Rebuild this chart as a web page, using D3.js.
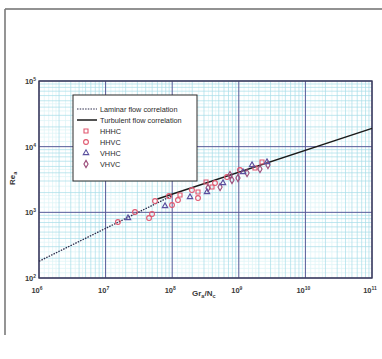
<!DOCTYPE html>
<html><head><meta charset="utf-8">
<script src="https://cdn.jsdelivr.net/npm/d3@7"></script>
<style>body{margin:0;background:#fff}svg{display:block}</style>
</head><body>
<svg id="c" width="382" height="359"></svg>
<script>
const xTicks = [1e6, 1e7, 1e8, 1e9, 1e10, 1e11];
const xTickExp = ["6", "7", "8", "9", "10", "11"];
const yTicks = [1e2, 1e3, 1e4, 1e5];
const yTickExp = ["2", "3", "4", "5"];

const laminarX = [1e6, 1e8];
const laminarY = [180, 1800];
const turbulentX = [6e7, 1e11];
const turbulentY = [1600, 19000];

const hhhcX = [1.31e8, 3.22e8, 2.44e8, 3.96e8, 1.75e9, 2.23e9];
const hhhcY = [1834, 2891, 2037, 2427, 4721, 5833];
const hhvcX = [1.53e7, 2.76e7, 4.49e7, 4.98e7, 5.52e7, 8.96e7, 9.93e7, 1.22e8, 1.98e8, 2.44e8, 4.39e8, 6.65e8, 1.04e9];
const hhvcY = [711, 1010, 818, 942, 1486, 1770, 1291, 1538, 2183, 1651, 2793, 3444, 4405];
const vhhcX = [2.17e7, 7.8e7, 1.85e8, 3.33e8, 5.79e8, 1.16e9, 1.58e9, 2.65e9];
const vhhcY = [818, 1247, 1710, 2037, 2793, 4102, 5248, 5833];
const vhvcX = [3.45e8, 5.23e8, 7.38e8, 9.72e8, 1.33e9, 2.08e9, 2.74e9, 7.9e8];
const vhvcY = [2344, 2427, 3698, 3327, 3963, 4561, 5248, 3105];

const legendLabels = ["Laminar flow correlation", "Turbulent flow correlation", "HHHC", "HHVC", "VHHC", "VHVC"];

const svg = d3.select("#c");
const L = 39, R = 372, T = 81, B = 278;
const x = d3.scaleLog().domain([1e6, 1e11]).range([L, R]);
const y = d3.scaleLog().domain([1e2, 1e5]).range([B, T]);

// outer frame of scan
svg.append("line").attr("x1", 5).attr("x2", 382).attr("y1", 9).attr("y2", 9).attr("stroke", "#6e6e6e").attr("stroke-width", 1.6);
svg.append("line").attr("x1", 5).attr("x2", 5).attr("y1", 9).attr("y2", 335).attr("stroke", "#7a7a7a").attr("stroke-width", 1.6);

const g = svg.append("g");
const fine = [1.2, 1.4, 1.6, 1.8, 2.5, 3.5, 4.5];
const mid = [2, 3, 4, 5, 6, 7, 8, 9];
function gridVals(dom, mults) {
  const out = [];
  for (let e = Math.log10(dom[0]); e < Math.log10(dom[1]); e++)
    mults.forEach(m => out.push(m * Math.pow(10, e)));
  return out;
}
const xd = x.domain(), yd = y.domain();
g.selectAll(".fx").data(gridVals(xd, fine)).join("line")
  .attr("x1", d => x(d)).attr("x2", d => x(d)).attr("y1", T).attr("y2", B)
  .attr("stroke", "#dcf3f7").attr("stroke-width", 0.7);
g.selectAll(".fy").data(gridVals(yd, fine)).join("line")
  .attr("y1", d => y(d)).attr("y2", d => y(d)).attr("x1", L).attr("x2", R)
  .attr("stroke", "#dcf3f7").attr("stroke-width", 0.7);
g.selectAll(".mx").data(gridVals(xd, mid)).join("line")
  .attr("x1", d => x(d)).attr("x2", d => x(d)).attr("y1", T).attr("y2", B)
  .attr("stroke", "#a6dce8").attr("stroke-width", 0.7);
g.selectAll(".my").data(gridVals(yd, mid)).join("line")
  .attr("y1", d => y(d)).attr("y2", d => y(d)).attr("x1", L).attr("x2", R)
  .attr("stroke", "#a6dce8").attr("stroke-width", 0.7);
g.selectAll(".Mx").data(xTicks).join("line")
  .attr("x1", d => x(d)).attr("x2", d => x(d)).attr("y1", T).attr("y2", B)
  .attr("stroke", "#555a98").attr("stroke-width", 1);
g.selectAll(".My").data(yTicks).join("line")
  .attr("y1", d => y(d)).attr("y2", d => y(d)).attr("x1", L).attr("x2", R)
  .attr("stroke", "#555a98").attr("stroke-width", 1);
g.append("rect").attr("x", L).attr("y", T).attr("width", R - L).attr("height", B - T)
  .attr("fill", "none").attr("stroke", "#3c3c5a").attr("stroke-width", 1.4);

const font = "Liberation Sans, Arial, sans-serif";
xTicks.forEach((v, i) => {
  const t = svg.append("text").attr("x", x(v) - 2).attr("y", 293).attr("text-anchor", "middle")
    .attr("font-family", font).attr("font-size", 7.5).attr("font-weight", "bold").attr("fill", "#3a3a3a");
  t.append("tspan").text("10");
  t.append("tspan").attr("dy", -3).attr("font-size", 5).text(xTickExp[i]);
});
yTicks.forEach((v, i) => {
  const t = svg.append("text").attr("x", L - 3).attr("y", y(v) + 3).attr("text-anchor", "end")
    .attr("font-family", font).attr("font-size", 7.5).attr("font-weight", "bold").attr("fill", "#3a3a3a");
  t.append("tspan").text("10");
  t.append("tspan").attr("dy", -3).attr("font-size", 5).text(yTickExp[i]);
});
const xt = svg.append("text").attr("x", 192).attr("y", 296).attr("font-family", font)
  .attr("font-size", 8).attr("font-weight", "bold").attr("fill", "#3a3a3a");
xt.append("tspan").text("Gr");
xt.append("tspan").attr("dy", 2).attr("font-size", 5.5).text("a");
xt.append("tspan").attr("dy", -2).text("/N");
xt.append("tspan").attr("dy", 2).attr("font-size", 5.5).text("c");
const yt = svg.append("text").attr("transform", "translate(15,185) rotate(-90)").attr("font-family", font)
  .attr("font-size", 8).attr("font-weight", "bold").attr("fill", "#3a3a3a");
yt.append("tspan").text("Re");
yt.append("tspan").attr("dy", 2).attr("font-size", 5.5).text("a");

const line = d3.line().x(d => x(d[0])).y(d => y(d[1]));
svg.append("path").attr("d", line(d3.zip(laminarX, laminarY)))
  .attr("fill", "none").attr("stroke", "#2a2a4a").attr("stroke-width", 1.3).attr("stroke-dasharray", "1.5,1.2");
svg.append("path").attr("d", line(d3.zip(turbulentX, turbulentY)))
  .attr("fill", "none").attr("stroke", "#1a1a1a").attr("stroke-width", 1.5);

const red = "#e0566e", blue = "#5a4f9e", plum = "#9a4a78";
const sym = {
  sq: d3.symbol().type(d3.symbolSquare).size(16),
  ci: d3.symbol().type(d3.symbolCircle).size(18),
  tr: d3.symbol().type(d3.symbolTriangle).size(13),
  di: d3.symbol().type(d3.symbolDiamond).size(15)
};
function pts(xs, ys, s, c) {
  svg.append("g").selectAll("path").data(d3.zip(xs, ys)).join("path")
    .attr("d", s).attr("transform", d => `translate(${x(d[0])},${y(d[1])})`)
    .attr("fill", "none").attr("stroke", c).attr("stroke-width", 1.1);
}
pts(hhvcX, hhvcY, sym.ci(), red);
pts(hhhcX, hhhcY, sym.sq(), red);
pts(vhvcX, vhvcY, sym.di(), plum);
pts(vhhcX, vhhcY, sym.tr(), blue);

const lg = svg.append("g");
lg.append("rect").attr("x", 73).attr("y", 95).attr("width", 124).attr("height", 86)
  .attr("fill", "#fff").attr("stroke", "#2a2a2a").attr("stroke-width", 1);
const rows = [109, 120, 131, 142, 153, 164];
legendLabels.forEach((lab, i) => {
  const ry = rows[i];
  if (i === 0) lg.append("line").attr("x1", 77).attr("x2", 97).attr("y1", ry).attr("y2", ry)
    .attr("stroke", "#2a2a4a").attr("stroke-width", 1.2).attr("stroke-dasharray", "1.5,1.2");
  else if (i === 1) lg.append("line").attr("x1", 77).attr("x2", 97).attr("y1", ry).attr("y2", ry)
    .attr("stroke", "#1a1a1a").attr("stroke-width", 1.5);
  else {
    const s = [sym.sq, sym.ci, sym.tr, sym.di][i - 2];
    const c = [red, red, blue, plum][i - 2];
    lg.append("path").attr("d", s()).attr("transform", `translate(86,${ry})`)
      .attr("fill", "none").attr("stroke", c).attr("stroke-width", 1.1);
  }
  lg.append("text").attr("x", 100).attr("y", ry + 2.5).attr("font-family", font)
    .attr("font-size", 7.3).attr("fill", "#2a2a2a").text(lab);
});
</script>
</body></html>
